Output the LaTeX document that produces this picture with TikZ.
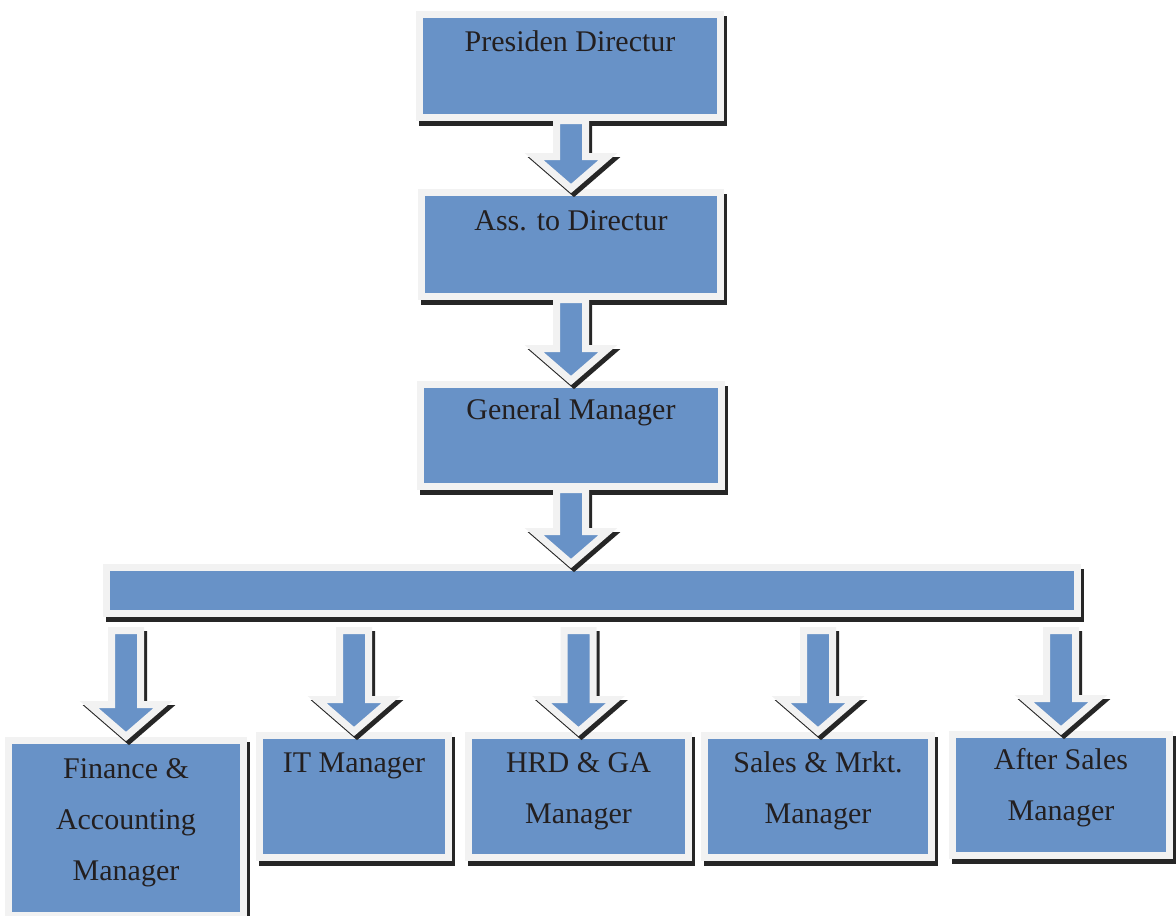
\documentclass[tikz,border=0pt]{standalone}
\usepackage{fontspec}
\setmainfont{Liberation Serif}
\usetikzlibrary{calc,shadows}

\definecolor{boxblue}{RGB}{104,146,199}
\definecolor{boxrim}{RGB}{242,242,242}
\definecolor{rimshadow}{RGB}{38,38,38}
\definecolor{labeltext}{RGB}{35,31,32}

%% outline of a block arrow going down from #1 to #2,
%% #3 = gap below #1, (#4,#5) = offset (for the shadow)
\newcommand{\arrowoutline}[5]{($(#1 -| #2)+(-14.5pt+#4,-#3+#5)$) -- ($(#2)+(-14.5pt+#4,32pt+#5)$)
  -- ($(#2)+(-37pt+#4,32pt+#5)$) -- ($(#2)+(#4,#5)$) -- ($(#2)+(37pt+#4,32pt+#5)$)
  -- ($(#2)+(14.5pt+#4,32pt+#5)$) -- ($(#1 -| #2)+(14.5pt+#4,-#3+#5)$) -- cycle}
\newcommand{\blockarrow}[3][0pt]{%
  \filldraw[arrowshadow] \arrowoutline{#2}{#3}{#1}{3pt}{-4pt};
  \filldraw[arrowbody] \arrowoutline{#2}{#3}{#1}{0pt}{0pt};
}

\begin{document}
\begin{tikzpicture}[x=1pt, y=-1pt]
%% one unit is one pixel of the original chart, y grows downwards
\tikzstyle{orgbox}=[rectangle, anchor=north, fill=boxblue, draw=boxrim, line width=7pt,
  inner sep=0pt, align=center, text=labeltext, font=\fontsize{30}{51}\selectfont,
  general shadow={fill=rimshadow, draw=rimshadow, line width=7pt, shadow xshift=3pt, shadow yshift=-5pt}]
\tikzstyle{arrowbody}=[fill=boxblue, draw=boxrim, line width=7pt]
\tikzstyle{arrowshadow}=[fill=rimshadow, draw=rimshadow, line width=7pt]
\useasboundingbox (0,0) rectangle (1176,916);
%% top of the chart
\node[orgbox, minimum width=301pt, text height=37.5pt, text depth=65.5pt] at (570,10.5) (pd) {Presiden Directur};
\node[orgbox, minimum width=299pt, text height=38pt, text depth=66pt] at (571,188.5) (ad) {Ass. to Directur};
\node[orgbox, minimum width=301pt, text height=35pt, text depth=67pt] at (571,380.5) (gm) {General Manager};
%% the long bar
\node[orgbox, minimum width=971pt, minimum height=46pt] at (592,563.5) (bar) {};
\coordinate (gm drop) at (bar.north -| gm.south);
%% managers
\node[orgbox, minimum width=235pt, text height=140.5pt, text depth=34.5pt] at (126,736.5) (fin) {Finance \&\\Accounting\\Manager};
\node[orgbox, minimum width=189pt, text height=37pt, text depth=85pt] at (354,731.5) (it) {IT Manager};
\node[orgbox, minimum width=220pt, text height=88pt, text depth=34pt] at (578.5,731.5) (hrd) {HRD \& GA\\Manager};
\node[orgbox, minimum width=227pt, text height=88pt, text depth=34pt] at (818,731.5) (sm) {Sales \& Mrkt.\\Manager};
\node[orgbox, minimum width=217pt, text height=86.5pt, text depth=34.5pt] at (1061,730.5) (as) {After Sales\\Manager};
%% arrows
\blockarrow{pd.south}{ad.north}
\blockarrow{ad.south}{gm.north}
\blockarrow{gm.south}{gm drop}
\foreach \m in {fin,it,hrd,sm,as}{
  \blockarrow[14pt]{bar.south}{\m.north}
}
\end{tikzpicture}
\end{document}
